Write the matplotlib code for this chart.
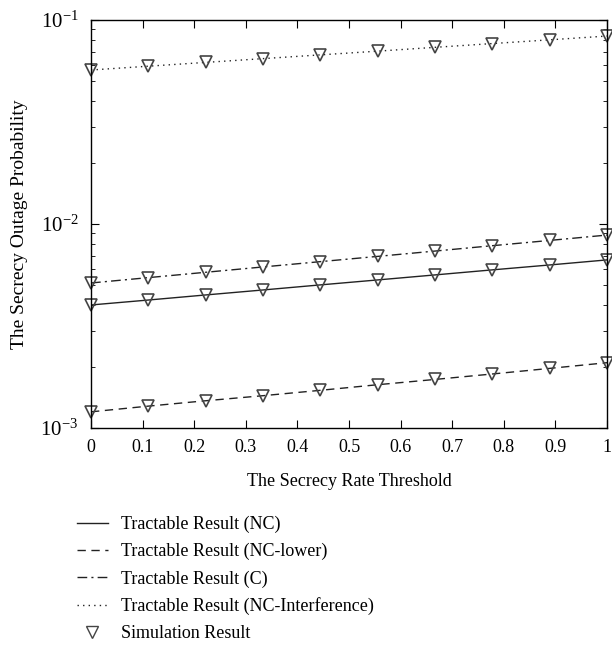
import numpy as np
import matplotlib
matplotlib.use('Agg')
import matplotlib.pyplot as plt
from matplotlib.lines import Line2D

plt.rcParams['font.family'] = ['Liberation Serif', 'DejaVu Serif']
plt.rcParams['mathtext.fontset'] = 'stix'

# rate threshold
x = [0, 1/9, 2/9, 3/9, 4/9, 5/9, 6/9, 7/9, 8/9, 1]

# outage probability
nc = [0.00401, 0.00424, 0.00449, 0.00475, 0.00503, 0.00532, 0.00563, 0.00596, 0.00630, 0.00667]
nc_lower = [0.00120, 0.00128, 0.00136, 0.00144, 0.00153, 0.00163, 0.00173, 0.00184, 0.00196, 0.00209]
c = [0.00514, 0.00546, 0.00580, 0.00616, 0.00654, 0.00694, 0.00737, 0.00783, 0.00831, 0.00883]
nc_interf = [0.0569, 0.0594, 0.0620, 0.0647, 0.0675, 0.0704, 0.0735, 0.0767, 0.0800, 0.0835]

labels = ['Tractable Result (NC)', 'Tractable Result (NC-lower)',
          'Tractable Result (C)', 'Tractable Result (NC-Interference)',
          'Simulation Result']

fig = plt.figure(figsize=(6.12, 6.47), dpi=100)
ax = fig.add_axes([0.1487, 0.3385, 0.8433, 0.6305])

styles = ['-', (0, (6, 4)), (0, (7, 3, 1.5, 3)), (0, (1, 3))]
for ys, ls in zip([nc, nc_lower, c, nc_interf], styles):
    ax.plot(x, ys, color='#222222', lw=1.0, linestyle=ls)
    ax.plot(x, ys, linestyle='none', marker='v', ms=9, mfc='none',
            mec='#444444', mew=1.2, clip_on=False)

ax.set_yscale('log')
ax.set_xlim(0, 1)
ax.set_ylim(1e-3, 1e-1)
ax.set_xticks(np.arange(0, 1.01, 0.1))
ax.set_xticklabels(['0', '0.1', '0.2', '0.3', '0.4', '0.5', '0.6', '0.7', '0.8', '0.9', '1'])
ax.tick_params(which='both', direction='in', top=True, right=True)
ax.tick_params(axis='x', labelsize=13, pad=8)
ax.tick_params(axis='y', labelsize=15, pad=9)
ax.tick_params(which='major', length=6)
ax.tick_params(which='minor', length=3)
for s in ax.spines.values():
    s.set_linewidth(1.0)

ax.set_xlabel('The Secrecy Rate Threshold', fontsize=13, labelpad=12)
ax.set_ylabel('The Secrecy Outage Probability', fontsize=14, labelpad=9)

handles = [Line2D([], [], color='#222222', lw=1.0, linestyle=ls) for ls in styles]
handles.append(Line2D([], [], linestyle='none', marker='v', ms=8, mfc='none',
                      mec='#444444', mew=1.0))
fig.legend(handles, labels, loc='upper left', bbox_to_anchor=(0.0985, 0.228),
           frameon=False, fontsize=13, handlelength=1.75, labelspacing=0.55,
           handletextpad=0.7)

fig.savefig('out.png', dpi=100)
